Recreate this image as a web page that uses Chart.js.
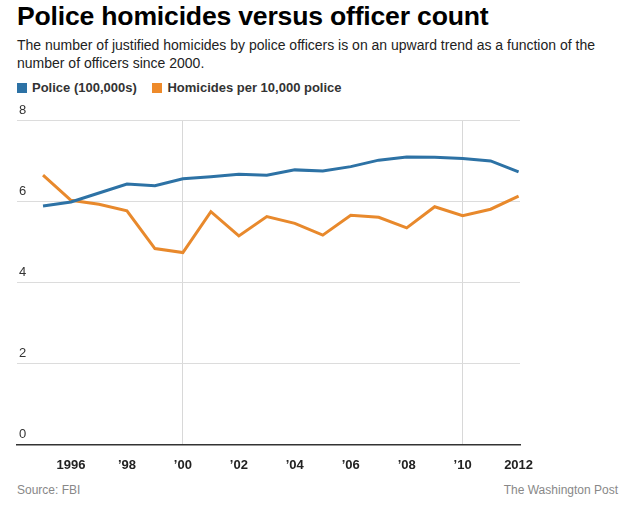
<!DOCTYPE html>
<html>
<head>
<meta charset="utf-8">
<script src="https://cdn.jsdelivr.net/npm/chart.js@4"></script>
<style>
  html, body { margin: 0; padding: 0; background: #fff; }
  body { width: 643px; height: 512px; position: relative; overflow: hidden; font-family: "Liberation Sans", Arial, sans-serif; color: #222; }
  #title { position: absolute; left: 17px; top: 1px; font-size: 26.6px; font-weight: bold; color: #000; letter-spacing: -0.2px; }
  #sub { position: absolute; left: 17px; top: 36px; width: 610px; font-size: 14px; line-height: 18px; color: #222; }
  #legend { position: absolute; left: 17px; top: 80px; font-size: 13px; font-weight: bold; color: #333; }
  #legend span.sw { display: inline-block; width: 10px; height: 10px; margin-right: 5px; vertical-align: -1px; }
  #legend span.item { margin-right: 12px; }
  .foot { position: absolute; top: 483px; font-size: 12px; color: #888; }
  #chart { position: absolute; left: 0; top: 0; }
</style>
</head>
<body>
<div id="title">Police homicides versus officer count</div>
<div id="sub">The number of justified homicides by police officers is on an upward trend as a function of the number of officers since 2000.</div>
<div id="legend">
  <span class="item"><span class="sw" style="background:#2d72a5"></span>Police (100,000s)</span>
  <span class="item"><span class="sw" style="background:#ee8a2a"></span>Homicides per 10,000 police</span>
</div>
<div class="foot" style="left:17px">Source: FBI</div>
<div class="foot" style="right:25px">The Washington Post</div>
<canvas id="chart" width="643" height="512" style="width:643px;height:512px"></canvas>
<script>
const years = [1995, 1996, 1997, 1998, 1999, 2000, 2001, 2002, 2003, 2004, 2005, 2006, 2007, 2008, 2009, 2010, 2011, 2012];
const police = [5.88, 5.98, 6.2, 6.42, 6.38, 6.55, 6.6, 6.66, 6.64, 6.77, 6.74, 6.85, 7.01, 7.09, 7.08, 7.05, 6.99, 6.72];
const homicides = [6.64, 6.02, 5.92, 5.76, 4.83, 4.73, 5.74, 5.14, 5.62, 5.45, 5.16, 5.65, 5.6, 5.34, 5.86, 5.64, 5.8, 6.12];
const xTicks = [1996, 1998, 2000, 2002, 2004, 2006, 2008, 2010, 2012];
const yTicks = [0, 2, 4, 6, 8];

const font = '"Liberation Sans", Arial, sans-serif';

function toPoints(vals) {
  return vals.map((v, i) => ({ x: years[i], y: v }));
}

// y labels sit just above their gridline, at the left edge
const yLabels = {
  id: 'yLabels',
  afterDraw(chart) {
    const ctx = chart.ctx;
    const y = chart.scales.y;
    ctx.save();
    ctx.font = '13px ' + font;
    ctx.fillStyle = '#333';
    ctx.textAlign = 'left';
    ctx.textBaseline = 'middle';
    yTicks.forEach(v => ctx.fillText(String(v), chart.chartArea.left + 2, y.getPixelForValue(v) - 10));
    ctx.restore();
  }
};

new Chart(document.getElementById('chart'), {
  type: 'line',
  data: {
    datasets: [
      {
        label: 'Police (100,000s)',
        data: toPoints(police),
        borderColor: '#2d72a5',
        borderWidth: 3,
        pointRadius: 0,
        tension: 0
      },
      {
        label: 'Homicides per 10,000 police',
        data: toPoints(homicides),
        borderColor: '#e8892c',
        borderWidth: 3,
        pointRadius: 0,
        tension: 0
      }
    ]
  },
  plugins: [yLabels],
  options: {
    responsive: false,
    maintainAspectRatio: false,
    animation: false,
    layout: { padding: { left: 17, right: 123, top: 120, bottom: 26 } },
    plugins: {
      legend: { display: false },
      tooltip: { enabled: false }
    },
    scales: {
      x: {
        type: 'linear',
        min: 1994.07,
        max: 2012.05,
        afterBuildTicks: (axis) => { axis.ticks = xTicks.map(v => ({ value: v })); },
        ticks: {
          autoSkip: false,
          maxRotation: 0,
          padding: 13,
          color: '#222',
          font: { family: font, size: 13, weight: 'bold' },
          callback: (v) => (v === 1996 || v === 2012) ? String(v) : "\u2019" + String(v).slice(2)
        },
        grid: {
          drawTicks: false,
          color: (c) => (c.tick && (c.tick.value === 2000 || c.tick.value === 2010)) ? '#d8d8d8' : 'rgba(0,0,0,0)'
        },
        border: { display: true, color: '#333', width: 1.5 }
      },
      y: {
        min: 0,
        max: 8,
        afterBuildTicks: (axis) => { axis.ticks = yTicks.map(v => ({ value: v })); },
        ticks: { display: false },
        grid: { drawTicks: false, color: '#dcdcdc' },
        border: { display: false }
      }
    }
  }
});
</script>
</body>
</html>
